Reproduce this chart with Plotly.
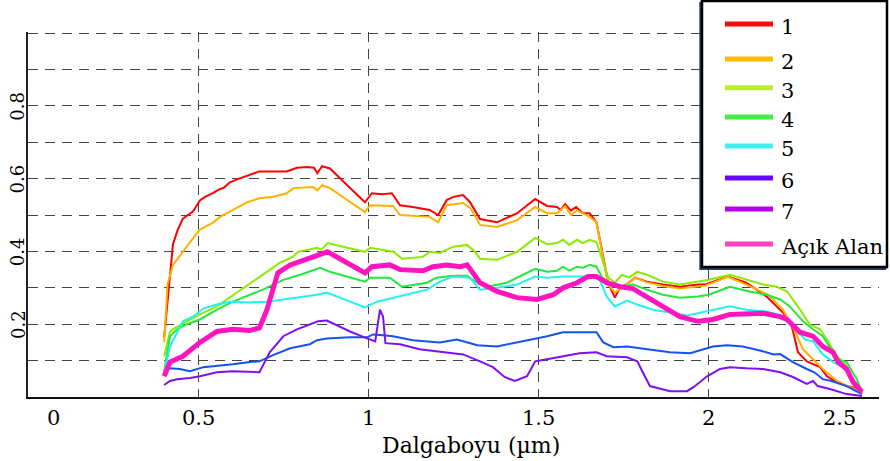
import plotly.graph_objects as go

# Spectral reflectance curves, wavelength in micrometres
wl_1 = [0.40, 0.426, 0.44, 0.455, 0.47, 0.485, 0.505, 0.52, 0.543, 0.56, 0.575, 0.593, 0.62, 0.652, 0.68, 0.72,
        0.76, 0.79, 0.82, 0.84, 0.85, 0.864, 0.887, 0.94, 0.99, 1.01, 1.04, 1.069, 1.093, 1.13, 1.18, 1.205,
        1.23, 1.25, 1.278, 1.298, 1.328, 1.378, 1.437, 1.49, 1.525, 1.554, 1.565, 1.578, 1.595, 1.61, 1.63,
        1.65, 1.67, 1.69, 1.704, 1.724, 1.74, 1.76, 1.783, 1.818, 1.865, 1.915, 1.968, 1.99, 2.056, 2.11,
        2.17, 2.218, 2.244, 2.262, 2.288, 2.327, 2.347, 2.377, 2.405, 2.43, 2.45]
r_1 = [0.164, 0.42, 0.46, 0.49, 0.50, 0.51, 0.54, 0.55, 0.56, 0.57, 0.575, 0.59, 0.60, 0.61, 0.62, 0.62,
       0.62, 0.63, 0.632, 0.63, 0.615, 0.634, 0.628, 0.58, 0.535, 0.56, 0.557, 0.56, 0.527, 0.522, 0.514, 0.50,
       0.541, 0.55, 0.555, 0.536, 0.489, 0.48, 0.505, 0.544, 0.525, 0.522, 0.514, 0.53, 0.512, 0.522, 0.505,
       0.505, 0.48, 0.385, 0.314, 0.273, 0.303, 0.31, 0.328, 0.317, 0.309, 0.303, 0.309, 0.309, 0.331, 0.314,
       0.276, 0.232, 0.194, 0.123, 0.098, 0.082, 0.057, 0.04, 0.03, 0.025, 0.01]

wl_2 = [0.40, 0.41, 0.426, 0.455, 0.48, 0.505, 0.525, 0.545, 0.564, 0.593, 0.62, 0.643, 0.68, 0.72, 0.76, 0.78,
        0.837, 0.85, 0.864, 0.887, 0.94, 0.99, 1.005, 1.034, 1.072, 1.093, 1.14, 1.18, 1.205, 1.23, 1.278, 1.30,
        1.328, 1.378, 1.437, 1.49, 1.525, 1.554, 1.578, 1.595, 1.613, 1.65, 1.67, 1.69, 1.704, 1.724, 1.76,
        1.783, 1.818, 1.865, 1.915, 1.99, 2.056, 2.11, 2.175, 2.218, 2.25, 2.277, 2.306, 2.335, 2.377, 2.415,
        2.45]
r_2 = [0.15, 0.31, 0.363, 0.40, 0.43, 0.46, 0.47, 0.48, 0.495, 0.51, 0.525, 0.535, 0.546, 0.55, 0.56, 0.574,
       0.577, 0.568, 0.582, 0.574, 0.54, 0.508, 0.527, 0.527, 0.525, 0.50, 0.498, 0.495, 0.48, 0.527, 0.533, 0.519,
       0.473, 0.467, 0.486, 0.522, 0.505, 0.505, 0.525, 0.50, 0.513, 0.495, 0.48, 0.38, 0.31, 0.287, 0.31,
       0.328, 0.315, 0.305, 0.298, 0.306, 0.33, 0.309, 0.281, 0.24, 0.186, 0.131, 0.104, 0.077, 0.044, 0.027,
       0.014]

wl_3 = [0.40, 0.417, 0.432, 0.467, 0.505, 0.555, 0.593, 0.632, 0.661, 0.702, 0.74, 0.778, 0.793, 0.849, 0.862,
        0.88, 0.99, 1.005, 1.043, 1.072, 1.099, 1.16, 1.18, 1.21, 1.249, 1.29, 1.313, 1.328, 1.378, 1.437, 1.49,
        1.525, 1.554, 1.572, 1.59, 1.613, 1.63, 1.65, 1.67, 1.686, 1.704, 1.724, 1.745, 1.765, 1.79, 1.818,
        1.865, 1.915, 1.968, 2.0, 2.062, 2.11, 2.16, 2.2, 2.23, 2.268, 2.297, 2.327, 2.347, 2.377, 2.405, 2.424,
        2.45]
r_3 = [0.112, 0.18, 0.19, 0.208, 0.227, 0.249, 0.273, 0.30, 0.317, 0.344, 0.369, 0.385, 0.399, 0.41, 0.405,
       0.423, 0.399, 0.41, 0.404, 0.40, 0.38, 0.385, 0.399, 0.396, 0.413, 0.418, 0.399, 0.38, 0.377, 0.399, 0.437,
       0.42, 0.423, 0.432, 0.418, 0.432, 0.423, 0.432, 0.426, 0.383, 0.33, 0.314, 0.336, 0.328, 0.344, 0.336,
       0.317, 0.309, 0.317, 0.322, 0.336, 0.322, 0.309, 0.303, 0.29, 0.24, 0.199, 0.186, 0.158, 0.112, 0.085,
       0.049, 0.014]

wl_4 = [0.40, 0.417, 0.438, 0.467, 0.505, 0.555, 0.602, 0.652, 0.69, 0.75, 0.80, 0.858, 0.887, 0.99, 1.005,
        1.063, 1.099, 1.172, 1.2, 1.249, 1.29, 1.32, 1.348, 1.407, 1.445, 1.49, 1.525, 1.554, 1.572, 1.59, 1.613,
        1.63, 1.65, 1.67, 1.686, 1.71, 1.74, 1.777, 1.818, 1.865, 1.915, 1.968, 2.0, 2.062, 2.12, 2.17, 2.21,
        2.238, 2.277, 2.306, 2.335, 2.377, 2.405, 2.435, 2.45]
r_4 = [0.071, 0.167, 0.186, 0.20, 0.213, 0.24, 0.262, 0.281, 0.295, 0.322, 0.336, 0.355, 0.344, 0.317, 0.328,
       0.328, 0.303, 0.314, 0.328, 0.333, 0.333, 0.314, 0.303, 0.314, 0.331, 0.352, 0.344, 0.347, 0.358, 0.347,
       0.358, 0.355, 0.363, 0.358, 0.33, 0.309, 0.303, 0.309, 0.295, 0.281, 0.273, 0.276, 0.281, 0.303, 0.29,
       0.281, 0.268, 0.249, 0.208, 0.186, 0.167, 0.104, 0.096, 0.049, 0.014]

wl_5 = [0.40, 0.417, 0.455, 0.485, 0.515, 0.555, 0.593, 0.652, 0.702, 0.75, 0.808, 0.849, 0.878, 0.946, 0.99,
        1.025, 1.087, 1.131, 1.172, 1.21, 1.249, 1.298, 1.328, 1.378, 1.437, 1.49, 1.525, 1.572, 1.62, 1.66,
        1.68, 1.70, 1.724, 1.76, 1.79, 1.836, 1.886, 1.936, 1.968, 1.995, 2.062, 2.11, 2.17, 2.21, 2.247, 2.283,
        2.306, 2.335, 2.365, 2.394, 2.424, 2.45]
r_5 = [0.063, 0.139, 0.208, 0.221, 0.243, 0.254, 0.262, 0.26, 0.262, 0.268, 0.276, 0.281, 0.287, 0.262, 0.246,
       0.262, 0.276, 0.285, 0.295, 0.317, 0.331, 0.328, 0.295, 0.30, 0.309, 0.331, 0.328, 0.331, 0.331, 0.331,
       0.322, 0.276, 0.249, 0.265, 0.254, 0.24, 0.232, 0.224, 0.23, 0.235, 0.249, 0.24, 0.235, 0.224, 0.194,
       0.158, 0.153, 0.117, 0.096, 0.082, 0.049, 0.016]

wl_6 = [0.40, 0.417, 0.446, 0.476, 0.515, 0.555, 0.602, 0.652, 0.68, 0.72, 0.77, 0.828, 0.849, 0.878, 0.946,
        0.996, 1.014, 1.043, 1.072, 1.131, 1.21, 1.26, 1.32, 1.378, 1.437, 1.49, 1.525, 1.572, 1.62, 1.67, 1.69,
        1.72, 1.76, 1.818, 1.886, 1.945, 1.965, 2.012, 2.053, 2.1, 2.15, 2.19, 2.21, 2.247, 2.288, 2.31, 2.335,
        2.36, 2.405, 2.45]
r_6 = [0.068, 0.079, 0.077, 0.071, 0.082, 0.085, 0.09, 0.096, 0.098, 0.115, 0.134, 0.145, 0.156, 0.161, 0.164,
       0.164, 0.172, 0.17, 0.167, 0.156, 0.15, 0.158, 0.142, 0.139, 0.15, 0.161, 0.167, 0.178, 0.178, 0.178, 0.15,
       0.137, 0.139, 0.131, 0.123, 0.12, 0.126, 0.139, 0.142, 0.139, 0.128, 0.117, 0.118, 0.096, 0.077, 0.068,
       0.049, 0.044, 0.03, 0.008]

wl_7 = [0.40, 0.417, 0.438, 0.476, 0.505, 0.555, 0.602, 0.652, 0.68, 0.71, 0.75, 0.79, 0.828, 0.852, 0.878,
        0.946, 0.996, 1.02, 1.034, 1.043, 1.05, 1.093, 1.15, 1.23, 1.278, 1.328, 1.366, 1.40, 1.43, 1.466, 1.49,
        1.525, 1.572, 1.62, 1.67, 1.70, 1.76, 1.79, 1.806, 1.827, 1.886, 1.936, 1.955, 1.995, 2.033, 2.062, 2.11,
        2.16, 2.21, 2.247, 2.288, 2.306, 2.32, 2.356, 2.405, 2.45]
r_7 = [0.033, 0.044, 0.049, 0.052, 0.057, 0.068, 0.071, 0.068, 0.068, 0.123, 0.167, 0.186, 0.20, 0.208, 0.21,
       0.18, 0.161, 0.153, 0.24, 0.221, 0.148, 0.145, 0.131, 0.123, 0.117, 0.098, 0.082, 0.055, 0.044, 0.057,
       0.098, 0.104, 0.112, 0.12, 0.123, 0.112, 0.109, 0.098, 0.068, 0.03, 0.016, 0.016, 0.027, 0.057, 0.077,
       0.082, 0.079, 0.077, 0.068, 0.055, 0.036, 0.044, 0.03, 0.022, 0.008, 0.003]

wl_acik = [0.40, 0.417, 0.455, 0.505, 0.555, 0.602, 0.652, 0.68, 0.702, 0.734, 0.77, 0.80, 0.837, 0.858, 0.88,
           0.99, 1.01, 1.063, 1.093, 1.16, 1.19, 1.23, 1.27, 1.29, 1.328, 1.378, 1.437, 1.495, 1.543, 1.572,
           1.613, 1.645, 1.67, 1.70, 1.74, 1.777, 1.818, 1.865, 1.915, 1.968, 2.012, 2.062, 2.11, 2.16, 2.21,
           2.23, 2.268, 2.306, 2.335, 2.365, 2.38, 2.405, 2.424, 2.45]
r_acik = [0.057, 0.096, 0.112, 0.15, 0.18, 0.186, 0.183, 0.19, 0.24, 0.341, 0.363, 0.372, 0.383, 0.39, 0.399,
          0.341, 0.358, 0.363, 0.35, 0.347, 0.358, 0.363, 0.358, 0.363, 0.314, 0.29, 0.273, 0.268, 0.281, 0.30,
          0.314, 0.331, 0.331, 0.314, 0.303, 0.298, 0.276, 0.249, 0.221, 0.208, 0.213, 0.227, 0.23, 0.23, 0.221,
          0.213, 0.178, 0.167, 0.139, 0.123, 0.096, 0.077, 0.041, 0.014]

series_names = ["1", "2", "3", "4", "5", "6", "7", "Açık Alan"]
line_colors = ["#FF0000", "#FFB000", "#8CEB00", "#22E83C", "#22F2F2", "#1452F5", "#8010F0", "#FF14C0"]
legend_colors = ["#F80A0A", "#FFBB00", "#BBEE33", "#44EE44", "#44EEEE", "#6608FF", "#B400F0", "#FF40C0"]

x_tick_labels = ["0", "0.5", "1", "1.5", "2", "2.5"]
x_label_pos = [0.076, 0.5, 1.0, 1.5, 2.0, 2.385]
y_tick_labels = ["0.2", "0.4", "0.6", "0.8"]
y_label_pos = [0.2, 0.4, 0.6, 0.8]

serif = "DejaVu Serif"

curves = [(wl_1, r_1), (wl_2, r_2), (wl_3, r_3), (wl_4, r_4),
          (wl_5, r_5), (wl_6, r_6), (wl_7, r_7), (wl_acik, r_acik)]

fig = go.Figure()
for (wl, r), name, col in zip(curves, series_names, line_colors):
    fig.add_trace(go.Scatter(
        x=wl, y=r, mode="lines", name=name,
        line=dict(color=col, width=5 if name == "Açık Alan" else 2),
        showlegend=False,
    ))

grid = dict(showgrid=True, gridcolor="#444444", gridwidth=1.4, griddash="10px,7px")

fig.update_layout(
    width=890, height=461,
    margin=dict(l=28, r=11, t=32, b=64),
    paper_bgcolor="white", plot_bgcolor="white",
    font=dict(family=serif, color="black"),
    xaxis=dict(
        range=[0, 2.5], tickvals=[0, 0.5, 1, 1.5, 2, 2.5], showticklabels=False,
        showline=True, linecolor="#111111", linewidth=2, ticks="", zeroline=False,
        automargin=False, **grid,
    ),
    yaxis=dict(
        range=[0, 1.003], tickvals=[0, 0.2, 0.4, 0.6, 0.8, 1.0], showticklabels=False,
        showline=True, linecolor="#222222", linewidth=2, ticks="", zeroline=False,
        automargin=False,
        minor=dict(tickvals=[0.1, 0.3, 0.5, 0.7, 0.9], showgrid=True, gridcolor="#444444",
                   gridwidth=1.4, griddash="10px,7px"),
        **grid,
    ),
)

# x tick labels
for pos, txt in zip(x_label_pos, x_tick_labels):
    fig.add_annotation(x=pos, y=-0.058, xref="x", yref="paper", text=txt, showarrow=False,
                       xanchor="center", yanchor="middle",
                       font=dict(family=serif, size=21, color="black"))

# y tick labels, rotated
for pos, txt in zip(y_label_pos, y_tick_labels):
    fig.add_annotation(x=-0.012, y=pos, xref="paper", yref="y", text=txt, showarrow=False,
                       textangle=-90, xanchor="center", yanchor="middle",
                       font=dict(family=serif, size=18, color="black"))

# x axis title
fig.add_annotation(x=0.521, y=-0.134, xref="paper", yref="paper", text="Dalgaboyu (µm)",
                   showarrow=False, xanchor="center", yanchor="middle",
                   font=dict(family=serif, size=22, color="black"))

# legend box
fig.add_shape(type="rect", xref="paper", yref="paper", x0=0.790, x1=1.0075, y0=0.351, y1=1.080,
              line=dict(color="#2d3d6d", width=2), fillcolor="rgba(0,0,0,0)", layer="above")
fig.add_shape(type="rect", xref="paper", yref="paper", x0=0.792, x1=1.0094, y0=0.356, y1=1.085,
              line=dict(color="black", width=2.5), fillcolor="white", layer="above")

legend_y = [1.022, 0.926, 0.847, 0.767, 0.688, 0.60, 0.515, 0.419]
for name, col, yy in zip(series_names, legend_colors, legend_y):
    fig.add_shape(type="line", xref="paper", yref="paper", x0=0.819, x1=0.8754, y0=yy, y1=yy,
                  line=dict(color=col, width=5), layer="above")
    fig.add_annotation(x=0.883, y=yy - 0.008, xref="paper", yref="paper", text=name, showarrow=False,
                       xanchor="left", yanchor="middle",
                       font=dict(family=serif, size=21, color="black"))

fig.write_html("out.html")
